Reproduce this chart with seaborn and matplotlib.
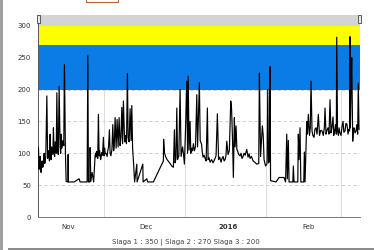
import matplotlib
matplotlib.use("Agg")
import matplotlib.pyplot as plt
from matplotlib.patches import Rectangle
import seaborn as sns
import pandas as pd

# ---- data: days since 1 Nov 2015 and level, per stretch ----
days_a = [4.77, 5.04, 5.2, 5.42, 5.6, 5.81, 6.0, 6.19, 6.4, 6.58, 6.8, 6.96, 7.1, 7.34, 7.6,
          8.0, 8.30, 8.5, 8.69, 9.0, 9.26, 9.45, 9.65, 9.85, 10.03, 10.3, 10.53, 10.75, 10.99,
          11.2, 11.38, 11.6, 11.84, 12.14, 12.4, 12.72, 13.10, 13.3, 13.49, 13.7, 13.87, 14.05,
          14.26, 14.5, 14.76, 15.14]
levels_a = [109, 75, 90, 95, 72, 70, 85, 88, 78, 80, 92, 100, 84, 85, 96,
            190, 92, 104, 100, 88, 130, 95, 90, 110, 105, 98, 140, 102, 95,
            118, 110, 100, 195, 105, 98, 205, 110, 100, 130, 108, 112, 118,
            120, 112, 239, 100]

days_b = [15.41, 16.10, 16.18, 16.29, 18.48, 20.40, 20.78, 23.47, 23.74, 23.97, 24.5, 24.62,
          24.89, 25.39, 25.97]
levels_b = [56, 55, 98, 55, 55, 60, 55, 55, 253, 55, 55, 109, 56, 70, 55]

days_c = [26.54, 26.75, 26.93, 27.1, 27.31, 27.55, 27.81, 28.08, 28.25, 28.46, 28.65, 28.85,
          29.1, 29.4, 29.73, 30.0, 30.2, 30.4, 30.77, 31.15, 31.4, 31.7, 32.04, 32.30, 32.6,
          33.0, 33.34, 33.65, 33.9, 34.22, 34.61, 34.99, 35.38, 35.76, 36.14, 36.45, 36.80,
          37.10, 37.41, 37.87, 38.05, 38.26, 38.6, 38.95, 39.22, 39.60, 39.98, 40.37, 40.64,
          40.94, 41.33]
levels_c = [96, 100, 94, 103, 99, 92, 161, 96, 104, 98, 90, 94,
            101, 97, 125, 96, 108, 99, 100, 95, 104, 110, 137, 100, 96,
            106, 145, 104, 112, 156, 108, 153, 110, 156, 112, 125, 172,
            115, 182, 118, 128, 120, 115, 225, 125, 118, 170, 120, 175,
            108, 83]

days_d = [41.71, 42.56, 42.67, 44.86, 44.98, 46.40, 46.70, 48.93]
levels_d = [55, 83, 55, 83, 55, 60, 55, 55]

days_e = [52.77, 52.85, 53.23, 53.7, 54.19, 54.8, 55.34, 56.0, 56.61, 57.0, 57.26, 57.6,
          57.92, 58.22, 58.7, 59.18, 59.57, 60.14, 60.5, 60.84, 61.37, 61.76, 62.06, 62.3,
          62.64, 63.02, 63.3, 63.60, 63.98, 64.3, 64.68, 65.1, 65.60, 65.90, 66.10, 66.60,
          66.9, 67.44, 67.7, 68.02, 68.4, 68.78, 69.2, 69.67, 69.94, 70.3, 70.70, 71.3, 71.86,
          72.2, 72.62, 73.0, 73.51, 73.97, 74.4, 74.93, 75.3, 75.70, 76.1, 76.46, 76.8, 77.12,
          77.62, 78.1, 78.65, 78.96, 79.34, 79.65, 80.04, 80.30, 80.69, 81.0, 81.26, 81.7,
          82.22, 82.6, 82.99, 83.4, 83.76, 84.2, 84.80, 85.30, 85.7, 86.06, 86.6, 87.22, 87.9,
          88.64, 89.4, 89.64, 90.10, 90.79, 91.13, 91.44, 92.02, 92.6, 92.86, 93.17, 93.5,
          93.74]
levels_e = [88, 122, 100, 94, 90, 87, 84, 80, 78, 137, 85, 92,
            171, 90, 96, 200, 95, 110, 98, 83, 150, 213, 100, 221,
            105, 150, 100, 108, 104, 115, 104, 110, 192, 110, 140, 211,
            120, 114, 102, 94, 97, 92, 88, 171, 90, 93, 86, 90, 85,
            88, 92, 96, 162, 90, 94, 86, 92, 95, 88, 90, 96, 119,
            98, 104, 182, 170, 120, 62, 156, 110, 143, 106, 104, 98,
            96, 100, 92, 95, 100, 97, 106, 94, 99, 92, 95, 88, 86,
            83, 84, 226, 95, 143, 127, 90, 80, 84, 200, 85, 88,
            236]

days_f = [93.94, 96.05, 97.20, 99.12, 99.70, 100.16, 100.39, 100.77, 101.04, 102.5, 102.69,
          102.96, 104.4, 104.61, 104.88, 105.26, 105.57, 106.7, 106.92, 107.18]
levels_f = [57, 55, 62, 62, 55, 130, 60, 120, 55, 55, 80,
            55, 55, 130, 90, 140, 55, 55, 102, 55]

days_g = [107.84, 108.14, 108.45, 108.91, 109.2, 109.49, 109.87, 110.2, 110.64, 111.0, 111.41,
          111.8, 112.05, 112.29, 112.75, 113.2, 113.71, 114.2, 114.6, 114.86, 115.25, 115.6,
          116.02, 116.4, 116.78, 117.17, 117.5, 117.94, 118.2, 118.51, 118.9, 119.2, 119.36,
          119.66, 120.0, 120.24, 120.6, 121.01, 121.4, 121.78, 122.1, 122.54, 122.9, 123.31,
          123.7, 124.08, 124.3, 124.46, 124.6, 124.85, 125.12, 125.50, 125.8, 126.0, 126.4,
          126.77, 127.1, 127.4, 127.65, 127.92]
levels_g = [150, 130, 161, 128, 140, 213, 135, 128, 125, 138, 140,
            130, 145, 161, 128, 136, 135, 128, 140, 171, 130, 136,
            140, 130, 184, 132, 140, 157, 128, 135, 145, 130, 282,
            135, 128, 140, 132, 128, 142, 150, 133, 135, 147, 145,
            130, 138, 135, 283, 140, 200, 250, 119, 138, 140, 132,
            135, 145, 130, 210, 137]

bands = [(300, 317, "#d4d4d4"), (270, 300, "#ffff00"), (200, 270, "#0b7be6")]
y_ticks = [0, 50, 100, 150, 200, 250, 300]
month_bounds = [30, 61, 92, 121]
month_labels = ["Nov", "Dec", "2016", "Feb"]
month_label_pos = [16.2, 46.1, 77.6, 108.7]
footer = "Slaga 1 : 350 | Slaga 2 : 270 Slaga 3 : 200"

days = days_a + days_b + days_c + days_d + days_e + days_f + days_g
levels = levels_a + levels_b + levels_c + levels_d + levels_e + levels_f + levels_g
df = pd.DataFrame({"day": days, "level": levels})

sns.set_style("white")
plt.rcParams["font.family"] = ["DejaVu Sans"]

W, H = 374, 250
fig = plt.figure(figsize=(W / 100, H / 100), dpi=100)
ax = fig.add_axes([38 / W, 1 - 217 / H, (360 - 38) / W, (217 - 15) / H])

for lo, hi, c in bands:
    ax.axhspan(lo, hi, color=c, zorder=1, lw=0)

for yv in [50, 100, 150, 200, 250]:
    ax.axhline(yv, color="#c8c8c8", lw=0.6, ls=(0, (4, 3)), zorder=0.5)
for xv in month_bounds:
    ax.axvline(xv, color="#dcdcdc", lw=0.7, zorder=0.5)

sns.lineplot(data=df, x="day", y="level", ax=ax, color="black", lw=0.85,
             sort=False, estimator=None, zorder=3)

ax.set_xlim(4.6, 128.3)
ax.set_ylim(0, 317)
ax.set_yticks(y_ticks)
ax.set_yticklabels([str(v) for v in y_ticks], fontsize=5, color="#333333")
ax.set_xticks(month_label_pos)
ax.set_xticklabels(month_labels, fontsize=5, color="#333333")
for lbl in ax.get_xticklabels():
    if lbl.get_text() == "2016":
        lbl.set_fontweight("bold")
ax.set_xticks(month_bounds, minor=True)
ax.tick_params(axis="x", which="major", length=0, pad=5)
ax.tick_params(axis="x", which="minor", length=3, color="#dcdcdc", width=0.7)
ax.tick_params(axis="y", length=0, pad=5)
ax.set_xlabel("")
ax.set_ylabel("")
for s in ["top", "right"]:
    ax.spines[s].set_visible(False)
ax.spines["left"].set_color("#555555")
ax.spines["left"].set_linewidth(0.7)
ax.spines["bottom"].set_color("#777777")
ax.spines["bottom"].set_linewidth(0.7)

# navigator handles
for hx in [37, 358]:
    fig.patches.append(Rectangle((hx / W, 1 - 23 / H), 3 / W, 8 / H, transform=fig.transFigure,
                                 facecolor="#e8e8e8", edgecolor="#444444", lw=0.6, zorder=5))

# frame decorations
fig.patches.append(Rectangle((0, 0), 3 / W, 1, transform=fig.transFigure,
                             facecolor="#a0a0a0", edgecolor="none"))
fig.patches.append(Rectangle((8 / W, 0), 1, 2.5 / H, transform=fig.transFigure,
                             facecolor="#8c8c8c", edgecolor="none"))
fig.patches.append(Rectangle((86 / W, 1 - 2 / H), 32 / W, 4 / H, transform=fig.transFigure,
                             facecolor="none", edgecolor="#c0603a", lw=0.8))

fig.text(186 / W, 1 - 242 / H, footer, ha="center", va="center", fontsize=5, color="#444444")

fig.savefig("out.png", dpi=100)
